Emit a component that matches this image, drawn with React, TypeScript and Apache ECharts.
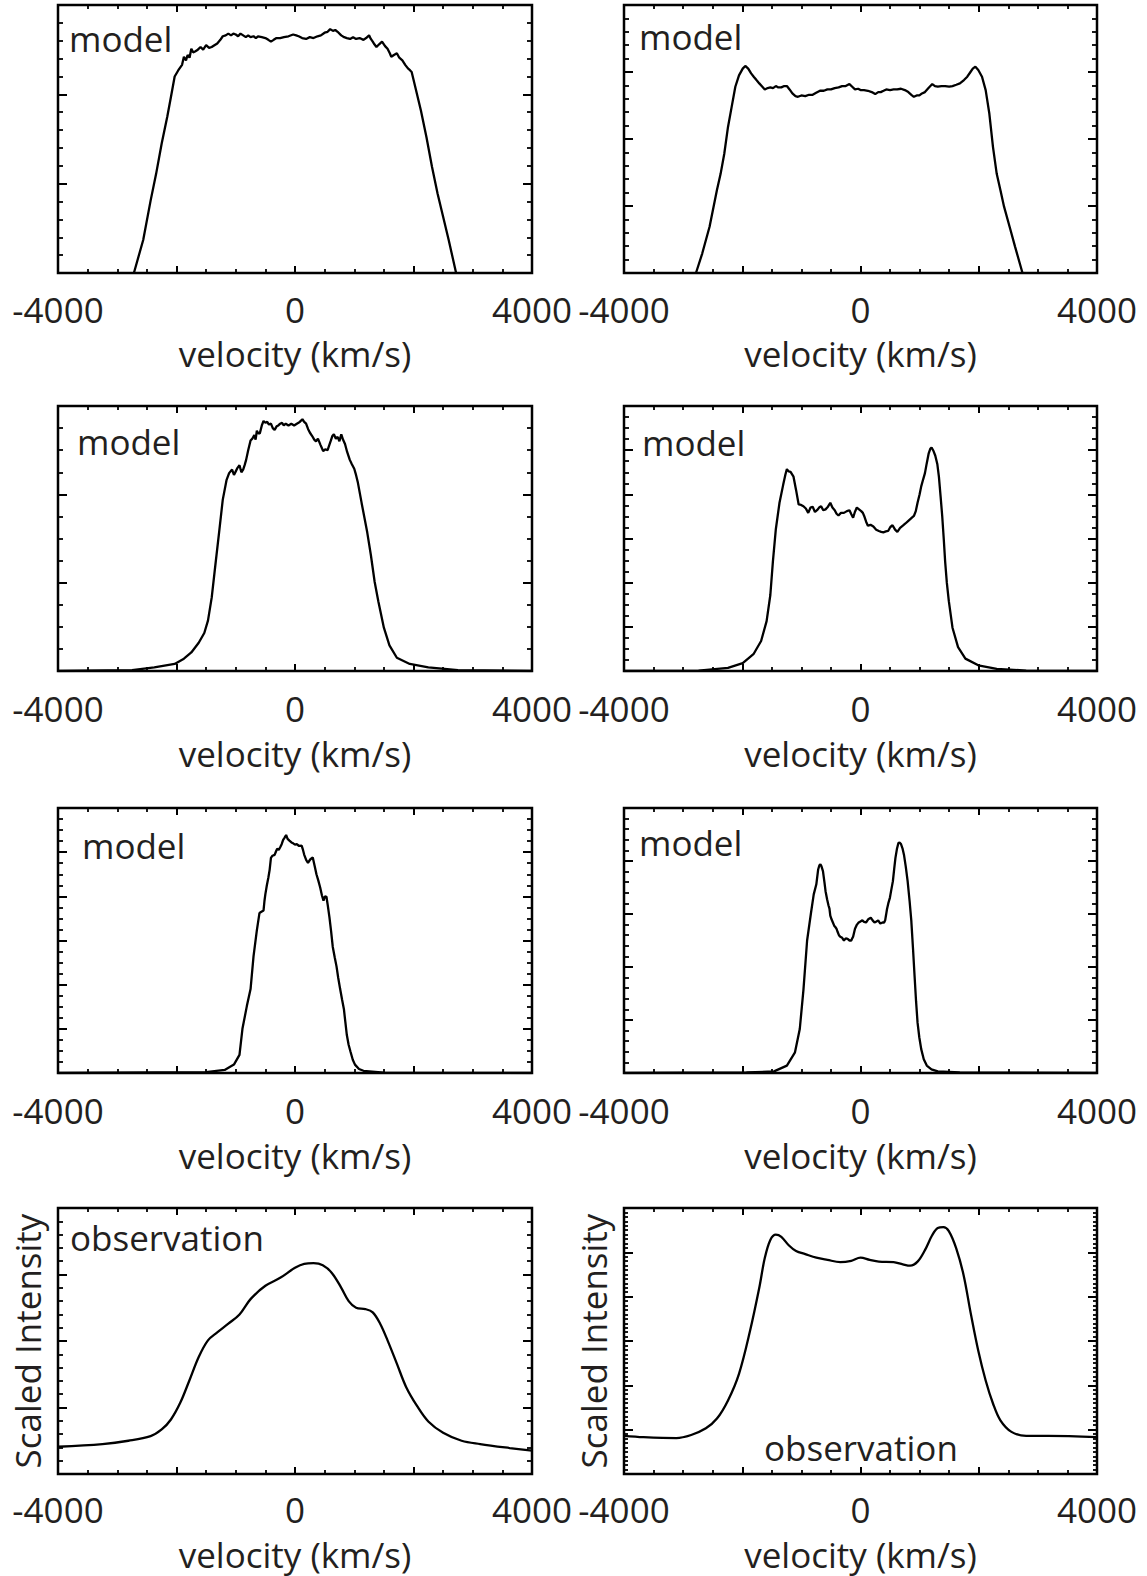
import React, { useEffect, useRef } from "react";
import * as echarts from "echarts";

// ---- tick labels ----
const X_MIN = -4000;
const X_MAX = 4000;
const X_MAJOR = 2000;
const X_LABELED = [-4000, 0, 4000];

// ---- series values: [velocity km/s, intensity in units of major y ticks] ----
const modelWideFlat: [number, number][] = [
  [-2719, 0], [-2562, 0.37], [-2437, 0.81], [-2344, 1.11], [-2250, 1.45], [-2156, 1.75],
  [-2094, 1.97], [-2031, 2.2], [-1969, 2.27], [-1906, 2.33], [-1875, 2.42], [-1840, 2.38],
  [-1812, 2.44], [-1780, 2.41], [-1750, 2.51], [-1720, 2.47], [-1687, 2.48], [-1640, 2.5],
  [-1594, 2.53], [-1550, 2.5], [-1500, 2.55], [-1450, 2.52], [-1406, 2.53], [-1360, 2.55],
  [-1312, 2.57], [-1260, 2.61], [-1219, 2.65], [-1170, 2.66], [-1125, 2.68], [-1080, 2.66],
  [-1040, 2.68], [-1000, 2.67], [-960, 2.65], [-920, 2.68], [-875, 2.66], [-830, 2.64],
  [-790, 2.66], [-750, 2.64], [-700, 2.65], [-660, 2.63], [-625, 2.65], [-560, 2.64],
  [-500, 2.63], [-450, 2.61], [-406, 2.59], [-360, 2.61], [-312, 2.63], [-250, 2.63],
  [-187, 2.64], [-110, 2.65], [-31, 2.67], [20, 2.66], [62, 2.65], [120, 2.63], [187, 2.62],
  [250, 2.64], [312, 2.63], [380, 2.65], [437, 2.66], [500, 2.69], [550, 2.7], [594, 2.73],
  [640, 2.71], [680, 2.72], [719, 2.7], [780, 2.66], [830, 2.64], [875, 2.63], [930, 2.62],
  [980, 2.64], [1031, 2.62], [1090, 2.63], [1156, 2.61], [1200, 2.63], [1250, 2.66],
  [1280, 2.62], [1312, 2.59], [1340, 2.56], [1375, 2.53], [1420, 2.56], [1469, 2.59],
  [1520, 2.54], [1562, 2.51], [1600, 2.46], [1625, 2.42], [1670, 2.44], [1719, 2.46],
  [1760, 2.41], [1812, 2.38], [1860, 2.33], [1906, 2.29], [1940, 2.27], [1969, 2.25],
  [2031, 2.08], [2125, 1.82], [2219, 1.52], [2312, 1.19], [2406, 0.89], [2500, 0.63],
  [2594, 0.37], [2719, 0],
];

const modelWideHorned: [number, number][] = [
  [-2783, 0], [-2677, 0.29], [-2553, 0.69], [-2428, 1.24], [-2366, 1.48], [-2304, 1.78],
  [-2241, 2.18], [-2179, 2.48], [-2117, 2.78], [-2055, 2.95], [-1992, 3.05], [-1949, 3.09],
  [-1899, 3.05], [-1850, 2.98], [-1806, 2.93], [-1760, 2.88], [-1712, 2.83], [-1660, 2.78],
  [-1619, 2.74], [-1570, 2.76], [-1525, 2.77], [-1480, 2.76], [-1432, 2.79], [-1390, 2.77],
  [-1339, 2.77], [-1290, 2.79], [-1245, 2.79], [-1200, 2.74], [-1152, 2.68], [-1100, 2.64],
  [-1058, 2.63], [-1000, 2.65], [-934, 2.64], [-870, 2.66], [-809, 2.66], [-750, 2.69],
  [-685, 2.72], [-620, 2.72], [-560, 2.74], [-500, 2.74], [-436, 2.76], [-370, 2.77],
  [-311, 2.79], [-250, 2.79], [-187, 2.82], [-140, 2.78], [-93, 2.74], [-40, 2.75],
  [0, 2.73], [60, 2.73], [125, 2.72], [190, 2.7], [249, 2.67], [300, 2.7], [342, 2.7],
  [390, 2.72], [436, 2.74], [500, 2.73], [560, 2.74], [620, 2.74], [685, 2.75], [750, 2.73],
  [809, 2.7], [860, 2.66], [903, 2.63], [950, 2.65], [996, 2.65], [1040, 2.68], [1090, 2.7],
  [1150, 2.76], [1214, 2.82], [1260, 2.79], [1307, 2.78], [1370, 2.79], [1432, 2.79],
  [1500, 2.78], [1556, 2.79], [1620, 2.81], [1681, 2.83], [1750, 2.88], [1806, 2.93],
  [1860, 3.0], [1899, 3.05], [1943, 3.08], [1992, 3.03], [2055, 2.93], [2117, 2.73],
  [2179, 2.38], [2241, 1.88], [2304, 1.48], [2366, 1.24], [2428, 0.99], [2522, 0.69],
  [2615, 0.39], [2740, 0],
];

const modelMidFlat: [number, number][] = [
  [-4000, 0], [-2750, 0.01], [-2375, 0.04], [-2031, 0.08], [-1875, 0.14], [-1750, 0.21],
  [-1625, 0.32], [-1531, 0.43], [-1469, 0.57], [-1406, 0.83], [-1344, 1.2], [-1281, 1.57],
  [-1219, 1.94], [-1156, 2.16], [-1112, 2.24], [-1062, 2.28], [-1030, 2.22], [-1000, 2.26],
  [-970, 2.3], [-937, 2.33], [-905, 2.25], [-875, 2.28], [-850, 2.33], [-825, 2.39],
  [-790, 2.5], [-750, 2.61], [-720, 2.63], [-687, 2.67], [-665, 2.62], [-644, 2.72],
  [-620, 2.69], [-594, 2.69], [-560, 2.78], [-531, 2.83], [-500, 2.81], [-469, 2.82],
  [-440, 2.79], [-406, 2.8], [-375, 2.75], [-344, 2.73], [-310, 2.77], [-281, 2.78],
  [-250, 2.8], [-219, 2.81], [-190, 2.78], [-156, 2.8], [-110, 2.78], [-62, 2.8],
  [-15, 2.78], [31, 2.8], [80, 2.82], [125, 2.85], [155, 2.82], [187, 2.8], [220, 2.74],
  [250, 2.7], [290, 2.66], [325, 2.62], [355, 2.6], [387, 2.63], [430, 2.56], [475, 2.49],
  [510, 2.51], [550, 2.5], [580, 2.56], [606, 2.61], [630, 2.66], [656, 2.68], [690, 2.63],
  [719, 2.65], [750, 2.6], [781, 2.68], [810, 2.62], [844, 2.57], [880, 2.48], [925, 2.39],
  [960, 2.34], [1000, 2.29], [1030, 2.22], [1062, 2.13], [1125, 1.9], [1219, 1.57],
  [1281, 1.31], [1344, 1.01], [1406, 0.79], [1500, 0.49], [1594, 0.29], [1719, 0.15],
  [1937, 0.08], [2250, 0.04], [2750, 0.01], [4000, 0],
];

const modelMidHorned: [number, number][] = [
  [-4000, 0], [-2739, 0.01], [-2241, 0.07], [-1992, 0.18], [-1806, 0.39], [-1681, 0.68],
  [-1588, 1.13], [-1525, 1.72], [-1482, 2.47], [-1432, 3.21], [-1370, 3.81], [-1307, 4.22],
  [-1270, 4.45], [-1245, 4.57], [-1215, 4.52], [-1183, 4.51], [-1133, 4.4], [-1090, 4.1],
  [-1046, 3.77], [-1005, 3.76], [-965, 3.73], [-925, 3.68], [-884, 3.58], [-845, 3.7],
  [-809, 3.72], [-770, 3.6], [-735, 3.64], [-700, 3.7], [-666, 3.73], [-630, 3.64],
  [-591, 3.66], [-550, 3.72], [-511, 3.81], [-475, 3.7], [-436, 3.64], [-405, 3.56],
  [-373, 3.52], [-330, 3.58], [-280, 3.58], [-230, 3.62], [-187, 3.64], [-155, 3.55],
  [-125, 3.47], [-95, 3.6], [-62, 3.7], [-25, 3.66], [12, 3.62], [40, 3.58], [62, 3.51],
  [95, 3.38], [125, 3.29], [170, 3.31], [218, 3.27], [265, 3.2], [311, 3.17], [350, 3.15],
  [386, 3.14], [430, 3.16], [467, 3.17], [505, 3.26], [542, 3.3], [585, 3.2], [623, 3.15],
  [670, 3.24], [716, 3.29], [760, 3.34], [809, 3.4], [860, 3.46], [903, 3.51], [935, 3.62],
  [965, 3.81], [1000, 4.0], [1027, 4.18], [1060, 4.34], [1090, 4.48], [1120, 4.7],
  [1152, 4.92], [1180, 5.03], [1202, 5.06], [1235, 4.98], [1264, 4.88], [1300, 4.68],
  [1326, 4.4], [1355, 3.95], [1382, 3.51], [1410, 2.95], [1432, 2.47], [1460, 2.0],
  [1494, 1.58], [1556, 0.98], [1650, 0.54], [1774, 0.28], [1992, 0.13], [2304, 0.05],
  [2802, 0.01], [4000, 0],
];

const modelNarrowFlat: [number, number][] = [
  [-4000, 0], [-1500, 0.02], [-1187, 0.07], [-1031, 0.19], [-937, 0.41], [-887, 1.0],
  [-812, 1.52], [-750, 1.9], [-700, 2.64], [-644, 3.23], [-600, 3.62], [-581, 3.64],
  [-531, 3.68], [-515, 3.9], [-500, 4.05], [-475, 4.25], [-450, 4.42], [-428, 4.6],
  [-406, 4.87], [-380, 4.92], [-344, 4.94], [-320, 5.02], [-300, 5.08], [-275, 5.05],
  [-250, 5.11], [-225, 5.18], [-200, 5.28], [-175, 5.33], [-150, 5.39], [-125, 5.3],
  [-94, 5.26], [-60, 5.22], [-31, 5.2], [0, 5.17], [31, 5.18], [70, 5.14], [112, 5.15],
  [135, 5.05], [156, 4.94], [190, 4.82], [219, 4.76], [260, 4.84], [300, 4.88], [330, 4.7],
  [362, 4.5], [395, 4.35], [425, 4.2], [455, 4.02], [481, 3.9], [505, 4.0], [531, 3.99],
  [555, 3.78], [581, 3.53], [610, 3.2], [637, 2.86], [670, 2.62], [700, 2.42], [730, 2.15],
  [762, 1.9], [795, 1.66], [825, 1.45], [850, 1.15], [875, 0.86], [905, 0.64], [937, 0.48],
  [975, 0.3], [1012, 0.19], [1080, 0.09], [1156, 0.05], [1500, 0.01], [4000, 0],
];

const modelNarrowHorned: [number, number][] = [
  [-4000, 0], [-1930, 0.01], [-1463, 0.03], [-1245, 0.14], [-1108, 0.39], [-1027, 0.83],
  [-965, 1.57], [-903, 2.5], [-840, 3.0], [-791, 3.37], [-747, 3.56], [-716, 3.84],
  [-695, 3.92], [-678, 3.94], [-660, 3.9], [-635, 3.81], [-610, 3.6], [-591, 3.43],
  [-565, 3.28], [-541, 3.16], [-525, 3.1], [-511, 2.97], [-490, 2.9], [-467, 2.84],
  [-445, 2.78], [-423, 2.75], [-405, 2.72], [-386, 2.66], [-365, 2.6], [-342, 2.57],
  [-310, 2.55], [-280, 2.5], [-250, 2.54], [-218, 2.53], [-185, 2.5], [-156, 2.5],
  [-140, 2.54], [-125, 2.57], [-108, 2.65], [-93, 2.72], [-60, 2.8], [-31, 2.84], [0, 2.86],
  [31, 2.88], [60, 2.85], [93, 2.84], [130, 2.9], [174, 2.93], [205, 2.88], [237, 2.84],
  [270, 2.86], [299, 2.88], [335, 2.82], [374, 2.84], [400, 2.84], [417, 2.88], [432, 2.98],
  [448, 3.09], [470, 3.2], [498, 3.31], [520, 3.45], [548, 3.62], [570, 3.85], [591, 4.06],
  [615, 4.22], [641, 4.34], [660, 4.35], [685, 4.32], [710, 4.24], [735, 4.12], [765, 3.9],
  [797, 3.62], [830, 3.25], [859, 2.88], [888, 2.35], [915, 1.82], [940, 1.35], [965, 0.95],
  [995, 0.67], [1027, 0.45], [1070, 0.26], [1121, 0.14], [1200, 0.07], [1307, 0.03],
  [1681, 0.01], [4000, 0],
];

const observationSkewed: [number, number][] = [
  [-4000, 0.41], [-3250, 0.45], [-2812, 0.5], [-2437, 0.57], [-2250, 0.67], [-2094, 0.82],
  [-1937, 1.07], [-1781, 1.41], [-1625, 1.76], [-1469, 2.01], [-1312, 2.13], [-1125, 2.26],
  [-937, 2.4], [-750, 2.63], [-500, 2.83], [-250, 2.95], [0, 3.1], [156, 3.16], [312, 3.17],
  [469, 3.14], [625, 3.02], [781, 2.8], [906, 2.6], [1031, 2.5], [1187, 2.48], [1312, 2.43],
  [1437, 2.26], [1562, 2.01], [1719, 1.66], [1875, 1.31], [2062, 1.02], [2250, 0.79],
  [2500, 0.62], [2812, 0.5], [3125, 0.45], [3625, 0.39], [4000, 0.35],
];

const observationHorned: [number, number][] = [
  [-4000, 0.86], [-3670, 0.83], [-3113, 0.81], [-2864, 0.88], [-2615, 1.03], [-2428, 1.25],
  [-2241, 1.66], [-2055, 2.26], [-1868, 3.23], [-1712, 4.2], [-1619, 4.87], [-1525, 5.28],
  [-1432, 5.4], [-1339, 5.35], [-1214, 5.16], [-1090, 5.03], [-934, 4.96], [-747, 4.88],
  [-560, 4.83], [-342, 4.78], [-156, 4.81], [0, 4.88], [156, 4.83], [311, 4.79], [560, 4.78],
  [716, 4.73], [840, 4.7], [965, 4.79], [1090, 5.05], [1214, 5.39], [1307, 5.55], [1401, 5.57],
  [1494, 5.48], [1619, 5.09], [1743, 4.49], [1868, 3.6], [1992, 2.78], [2117, 2.11],
  [2241, 1.59], [2366, 1.21], [2553, 0.95], [2802, 0.86], [3175, 0.86], [4000, 0.83],
];

// ---- panel texts ----
const MODEL_LABEL = "model";
const OBS_LABEL = "observation";
const X_TITLE = "velocity (km/s)";
const Y_TITLE = "Scaled Intensity";

// ---- layout (positions/sizes/styles) ----
const COL_LEFT = [58, 624];
const COL_WIDTH = [474, 473];
const ROW_TOP = [5, 406, 808, 1208];
const ROW_HEIGHT = [268, 265, 265, 266];
const LABEL_MARGIN = [21, 22, 22, 20];
const NAME_GAP = [65, 67, 67, 65];
const LINE_H = 30;

type Panel = {
  data: [number, number][];
  row: number;
  col: number;
  yMax: number;
  yMinor: number;
  label: string;
  lx: number;
  ly: number;
  smooth: boolean;
  yTitle: boolean;
};

const panels: Panel[] = [
  { data: modelWideFlat, row: 0, col: 0, yMax: 3, yMinor: 5, label: MODEL_LABEL, lx: 69, ly: 38, smooth: false, yTitle: false },
  { data: modelWideHorned, row: 0, col: 1, yMax: 4, yMinor: 5, label: MODEL_LABEL, lx: 639, ly: 36, smooth: false, yTitle: false },
  { data: modelMidFlat, row: 1, col: 0, yMax: 3, yMinor: 4, label: MODEL_LABEL, lx: 77, ly: 441, smooth: false, yTitle: false },
  { data: modelMidHorned, row: 1, col: 1, yMax: 6, yMinor: 4, label: MODEL_LABEL, lx: 642, ly: 442, smooth: false, yTitle: false },
  { data: modelNarrowFlat, row: 2, col: 0, yMax: 6, yMinor: 4, label: MODEL_LABEL, lx: 82, ly: 845, smooth: false, yTitle: false },
  { data: modelNarrowHorned, row: 2, col: 1, yMax: 5, yMinor: 5, label: MODEL_LABEL, lx: 639, ly: 842, smooth: false, yTitle: false },
  { data: observationSkewed, row: 3, col: 0, yMax: 4, yMinor: 5, label: OBS_LABEL, lx: 70, ly: 1237, smooth: true, yTitle: true },
  { data: observationHorned, row: 3, col: 1, yMax: 6, yMinor: 10, label: OBS_LABEL, lx: 764, ly: 1447, smooth: true, yTitle: true },
];

const FONT = "'Open Sans', 'Noto Sans', sans-serif";
const TEXT_COLOR = "#231f20";
const FONT_SIZE = 35;

function buildOption() {
  const grid: any[] = [];
  const xAxis: any[] = [];
  const yAxis: any[] = [];
  const series: any[] = [];
  const graphic: any[] = [];

  panels.forEach((p, i) => {
    grid.push({
      left: COL_LEFT[p.col],
      top: ROW_TOP[p.row],
      width: COL_WIDTH[p.col],
      height: ROW_HEIGHT[p.row],
      show: true,
      borderColor: "#000",
      borderWidth: 2.5,
      backgroundColor: "transparent",
    });
    const xCommon = {
      type: "value",
      gridIndex: i,
      min: X_MIN,
      max: X_MAX,
      interval: X_MAJOR,
      axisLine: { show: false, onZero: false },
      splitLine: { show: false },
      axisTick: { show: true, inside: true, length: 7, lineStyle: { color: "#000", width: 2 } },
      minorTick: { show: true, splitNumber: 4, length: 4, lineStyle: { color: "#000", width: 1.8 } },
    };
    xAxis.push({
      ...xCommon,
      position: "bottom",
      name: X_TITLE,
      nameLocation: "middle",
      nameGap: NAME_GAP[p.row],
      nameTextStyle: { fontFamily: FONT, fontSize: FONT_SIZE, color: TEXT_COLOR, lineHeight: LINE_H },
      axisLabel: {
        show: true,
        margin: LABEL_MARGIN[p.row],
        fontFamily: FONT,
        fontSize: FONT_SIZE,
        lineHeight: LINE_H,
        color: TEXT_COLOR,
        formatter: (v: number) => (X_LABELED.indexOf(v) >= 0 ? String(v) : ""),
      },
    });
    xAxis.push({ ...xCommon, position: "top", axisLabel: { show: false } });

    const yCommon = {
      type: "value",
      gridIndex: i,
      min: 0,
      max: p.yMax,
      interval: 1,
      axisLine: { show: false, onZero: false },
      splitLine: { show: false },
      axisLabel: { show: false },
      axisTick: { show: true, inside: true, length: 9, lineStyle: { color: "#000", width: 2 } },
      minorTick: {
        show: true,
        splitNumber: p.yMinor,
        length: p.yMinor === 10 ? 4 : 5,
        lineStyle: { color: "#000", width: 1.8 },
      },
    };
    yAxis.push({
      ...yCommon,
      position: "left",
      ...(p.yTitle
        ? {
            name: Y_TITLE,
            nameLocation: "middle",
            nameGap: 16,
            nameRotate: 90,
            nameTextStyle: { fontFamily: FONT, fontSize: FONT_SIZE, color: TEXT_COLOR, lineHeight: LINE_H },
          }
        : {}),
    });
    yAxis.push({ ...yCommon, position: "right" });

    series.push({
      type: "line",
      xAxisIndex: 2 * i,
      yAxisIndex: 2 * i,
      data: p.data,
      showSymbol: false,
      symbol: "none",
      smooth: p.smooth ? 0.35 : false,
      clip: true,
      lineStyle: { color: "#000", width: 2.3 },
      silent: true,
    });

    graphic.push({
      type: "text",
      x: p.lx,
      y: p.ly,
      style: {
        text: p.label,
        fontFamily: FONT,
        fontSize: FONT_SIZE,
        fill: TEXT_COLOR,
        align: "left",
        verticalAlign: "middle",
      },
    });
  });

  return {
    animation: false,
    backgroundColor: "#fff",
    textStyle: { fontFamily: FONT },
    grid,
    xAxis,
    yAxis,
    series,
    graphic,
  };
}

export default function App() {
  const ref = useRef<HTMLDivElement>(null);
  useEffect(() => {
    document.body.style.margin = "0";
    document.body.style.overflow = "hidden";
    if (!ref.current) return;
    const chart = echarts.init(ref.current, null, { renderer: "svg" });
    chart.setOption(buildOption() as any);
    return () => chart.dispose();
  }, []);
  return (
    <div
      ref={ref}
      style={{ position: "absolute", left: 0, top: 0, width: 1147, height: 1576, background: "#fff" }}
    />
  );
}
